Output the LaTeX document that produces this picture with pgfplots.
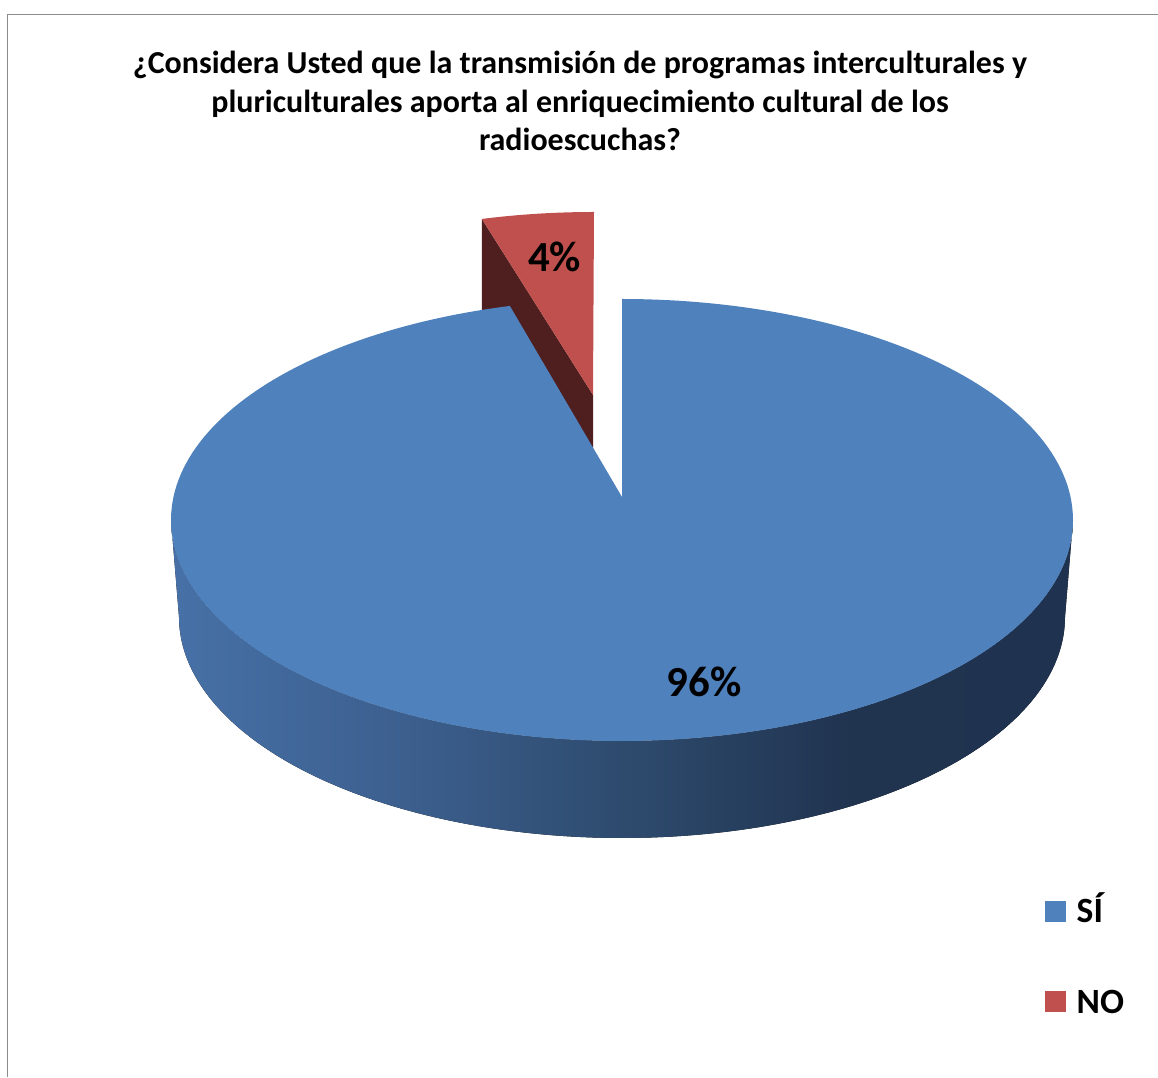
\documentclass[border=0pt]{standalone}
\usepackage{fontspec}
\setmainfont{Carlito}
\usepackage{pgfplots}
\pgfplotsset{compat=1.18}
\usepackage{pgfplotstable}
\usepgfplotslibrary{fillbetween}
\definecolor{pieblue}{HTML}{4F81BD}
\definecolor{piered}{HTML}{C0504D}
\definecolor{darkred}{HTML}{4F1F1F}
\definecolor{sA}{HTML}{4771A7}
\definecolor{sB}{HTML}{3C5F8E}
\definecolor{sC}{HTML}{2E4B6E}
\definecolor{sD}{HTML}{20334F}
\definecolor{sE}{HTML}{1F3250}
\definecolor{framegray}{HTML}{8C8C8C}
\pgfdeclarehorizontalshading{sideshade}{100bp}{color(0bp)=(sA); color(25bp)=(sA); color(38bp)=(sB); color(50bp)=(sC); color(63bp)=(sD); color(75bp)=(sE); color(100bp)=(sE)}
\pgfplotstableread{
label value
SI 96
NO 4
}\piedata
\pgfplotstablegetelem{0}{value}\of\piedata \let\vSI\pgfplotsretval
\pgfplotstablegetelem{1}{value}\of\piedata \let\vNO\pgfplotsretval
\begin{document}
\begin{tikzpicture}
\pgfmathsetmacro\aNO{3.6*\vNO}
\pgfmathsetmacro\aSIend{360-\aNO}
\pgfmathsetmacro\rLx{594+451*sin(-\aNO)}
\pgfmathsetmacro\rLy{433-221*cos(\aNO)}
\begin{axis}[hide axis, scale only axis, width=11.58cm, height=10.77cm,
  xmin=0, xmax=1158, ymin=0, ymax=1077, y dir=reverse, clip=false]
% frame
\draw[framegray, line width=0.45pt] (axis cs:7.5,1077) -- (axis cs:7.5,14.5) -- (axis cs:1158,14.5);
% red slice: dark cut face
\addplot[draw=none, fill=darkred, forget plot] coordinates {(\rLx,\rLy) (593,395) (593,492) (\rLx,\rLy+97)} -- cycle;
% red slice: top face
\addplot[draw=none, fill=piered, forget plot, domain=-\aNO:0, samples=20, variable=\t]
  ({594+451*sin(\t)}, {433-221*cos(\t)}) -- (axis cs:593,395) -- cycle;
% blue slice: side
\addplot[draw=none, name path=topfront, forget plot, domain=90:270, samples=120, variable=\t]
  ({622+451*sin(\t)}, {520-221*cos(\t)});
\addplot[draw=none, name path=botfront, forget plot, domain=90:270, samples=120, variable=\t]
  ({622+443*sin(\t)}, {617-221*cos(\t)});
\addplot[shading=sideshade, draw=none, forget plot] fill between[of=topfront and botfront];
% blue slice: top face
\addplot[draw=none, fill=pieblue, forget plot, domain=0:\aSIend, samples=240, variable=\t]
  ({622+451*sin(\t)}, {520-221*cos(\t)}) -- (axis cs:622,497) -- cycle;
% labels
\node[font=\fontsize{12.2}{14}\selectfont\bfseries, anchor=base] at (axis cs:554.5,272) {4\%};
\node[font=\fontsize{12.2}{14}\selectfont\bfseries, anchor=base] at (axis cs:704,697) {96\%};
% title
\node[font=\fontsize{9.1}{11}\selectfont\bfseries, anchor=base] at (axis cs:580,74) {¿Considera Usted que la transmisión de programas interculturales y};
\node[font=\fontsize{9.1}{11}\selectfont\bfseries, anchor=base] at (axis cs:580,112.5) {pluriculturales aporta al enriquecimiento cultural de los};
\node[font=\fontsize{9.1}{11}\selectfont\bfseries, anchor=base] at (axis cs:580,151) {radioescuchas?};
% legend
\fill[pieblue] (axis cs:1045,901) rectangle (axis cs:1066,922);
\node[font=\fontsize{10.1}{12}\selectfont\bfseries, anchor=base west, inner sep=0pt] at (axis cs:1076,923) {SÍ};
\fill[piered] (axis cs:1045,991) rectangle (axis cs:1066,1012);
\node[font=\fontsize{10.1}{12}\selectfont\bfseries, anchor=base west, inner sep=0pt] at (axis cs:1076,1013) {NO};
\end{axis}
\pgfresetboundingbox
\path[use as bounding box] (0,0) rectangle (11.58cm,10.77cm);
\end{tikzpicture}
\end{document}
